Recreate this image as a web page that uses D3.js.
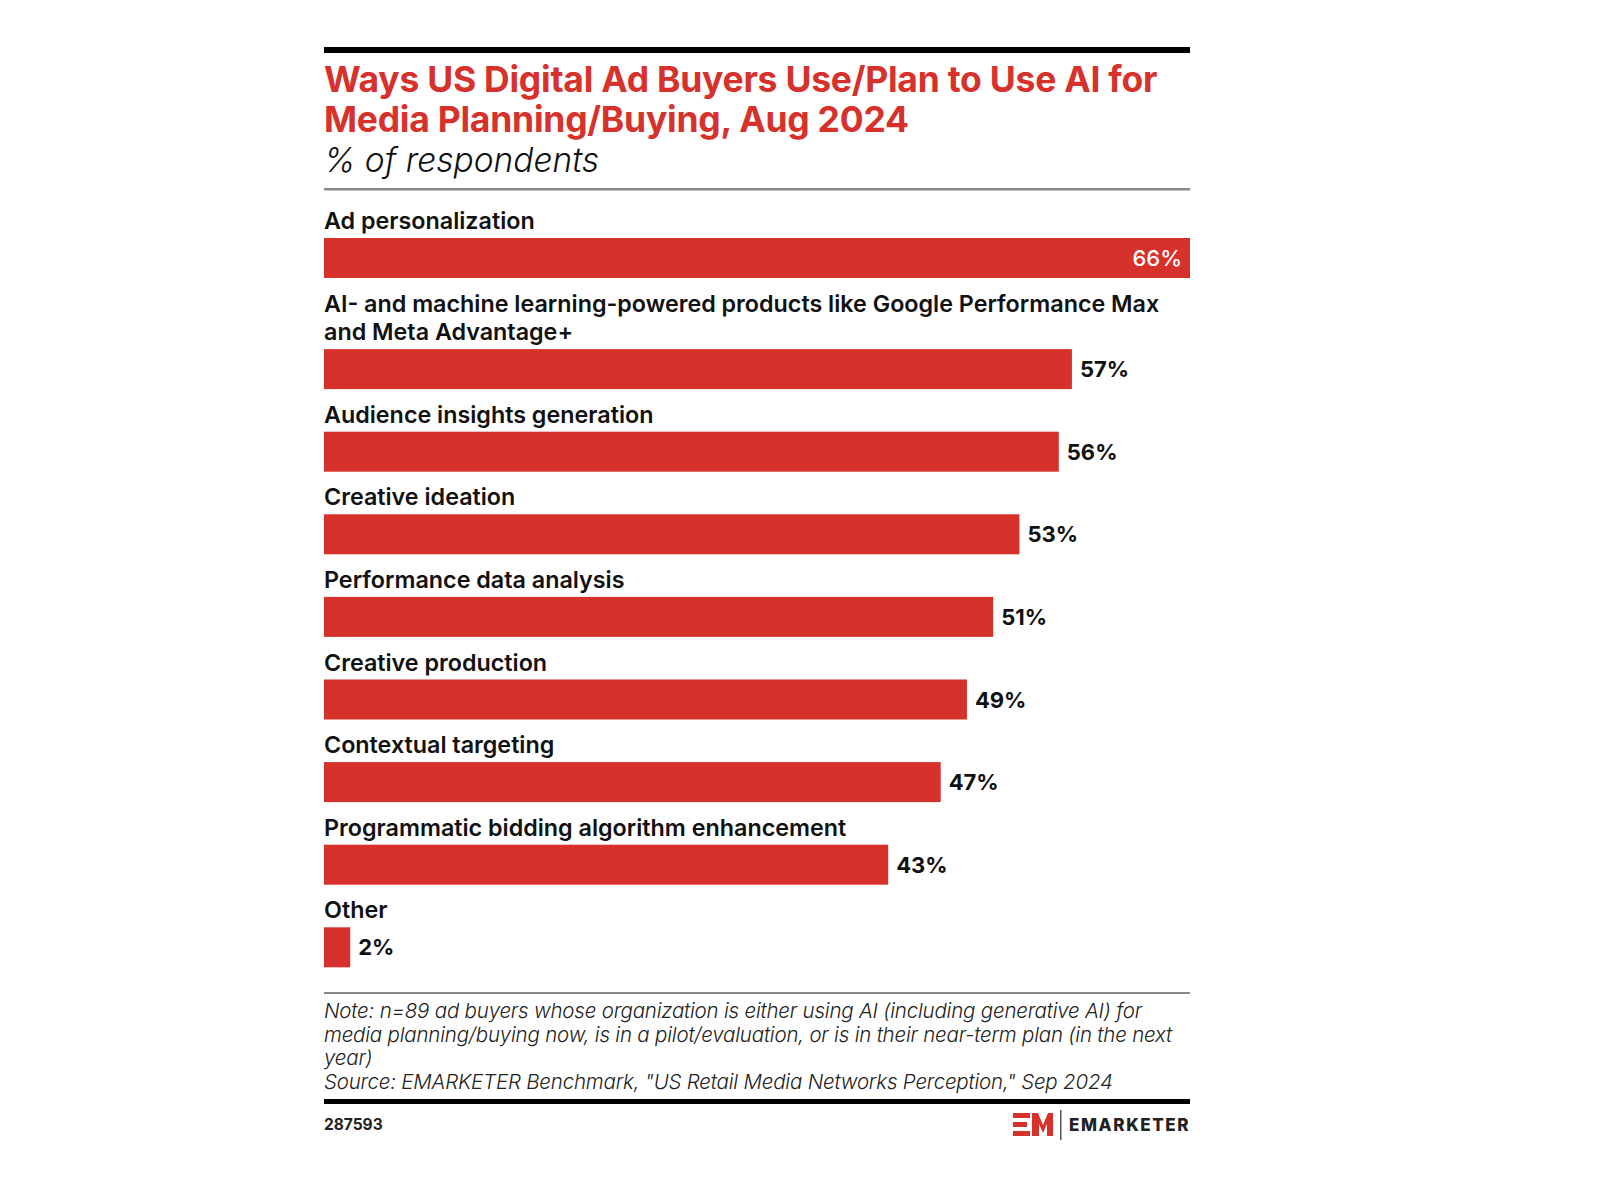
<!DOCTYPE html>
<html>
<head>
<meta charset="utf-8">
<script src="https://cdn.jsdelivr.net/npm/d3@7"></script>
<style>
  html, body { margin: 0; padding: 0; background: #ffffff; }
  svg { display: block; }
</style>
</head>
<body>
<svg id="chart" width="1600" height="1197"></svg>
<script>
// ---- data ----
const categories = [
  "Ad personalization",
  "AI- and machine learning-powered products like Google Performance Max\nand Meta Advantage+",
  "Audience insights generation",
  "Creative ideation",
  "Performance data analysis",
  "Creative production",
  "Contextual targeting",
  "Programmatic bidding algorithm enhancement",
  "Other"
];
const values = [66, 57, 56, 53, 51, 49, 47, 43, 2];
const titleLines = [
  "Ways US Digital Ad Buyers Use/Plan to Use AI for",
  "Media Planning/Buying, Aug 2024"
];
const subtitle = "% of respondents";
const noteLines = [
  "Note: n=89 ad buyers whose organization is either using AI (including generative AI) for",
  "media planning/buying now, is in a pilot/evaluation, or is in their near-term plan (in the next",
  "year)",
  "Source: EMARKETER Benchmark, \"US Retail Media Networks Perception,\" Sep 2024"
];
const chartId = "287593";
const brand = "EMARKETER";

// ---- layout ----
const left = 324, right = 1190;
const red = "#d7312b";
const fontMain = "Inter, 'Noto Sans', sans-serif";

const svg = d3.select("#chart");

const x = d3.scaleLinear().domain([0, d3.max(values)]).range([left, right]);

// top rule
svg.append("rect").attr("x", left).attr("y", 47).attr("width", right - left).attr("height", 6).attr("fill", "#000");

// title
svg.append("g").selectAll("text").data(titleLines).join("text")
  .attr("x", left).attr("y", (d, i) => 92 + i * 39.5)
  .attr("fill", red)
  .style("font-family", fontMain).style("font-weight", 700).style("font-size", "35.5px")
  .style("letter-spacing", "-0.25px")
  .text(d => d);

svg.append("text").attr("x", left).attr("y", 172)
  .attr("fill", "#111")
  .style("font-family", fontMain).style("font-weight", 300).style("font-style", "italic")
  .style("font-size", "33.5px")
  .text(subtitle);

// gray rule under header
svg.append("rect").attr("x", left).attr("y", 188).attr("width", right - left).attr("height", 2.5).attr("fill", "#8a8a8a");

// rows
const barH = 40, gapAfterBar = 42.6, lineH = 28.5;
const rows = [];
let yCursor = 238;
categories.forEach((c, i) => {
  const lines = c.split("\n");
  if (i > 0) yCursor += barH + gapAfterBar + (lines.length - 1) * lineH;
  rows.push({ label: c, lines, value: values[i], top: yCursor });
});

const rowG = svg.append("g").selectAll("g").data(rows).join("g");

rowG.each(function (d) {
  const g = d3.select(this);
  const n = d.lines.length;
  g.selectAll("text.cat").data(d.lines).join("text")
    .attr("class", "cat")
    .attr("x", left)
    .attr("y", (l, j) => d.top - 9 - (n - 1 - j) * lineH)
    .attr("fill", "#111")
    .style("font-family", fontMain).style("font-weight", 600).style("font-size", "23.3px")
    .style("letter-spacing", "0px")
    .text(l => l);
});

rowG.append("rect")
  .attr("x", x(0)).attr("y", d => d.top)
  .attr("width", d => x(d.value) - x(0)).attr("height", barH)
  .attr("fill", red);

rowG.append("text")
  .attr("x", d => d.value === d3.max(values) ? x(d.value) - 8 : x(d.value) + 8)
  .attr("y", d => d.top + barH / 2 + 8)
  .attr("text-anchor", d => d.value === d3.max(values) ? "end" : "start")
  .attr("fill", d => d.value === d3.max(values) ? "#fff" : "#111")
  .style("font-family", fontMain)
  .style("font-weight", d => d.value === d3.max(values) ? 500 : 700)
  .style("font-size", "22px")
  .text(d => d.value + "%");

// note rule
svg.append("rect").attr("x", left).attr("y", 992).attr("width", right - left).attr("height", 2).attr("fill", "#8a8a8a");

svg.append("g").selectAll("text").data(noteLines).join("text")
  .attr("x", left).attr("y", (d, i) => 1018 + i * 23.6)
  .attr("fill", "#222")
  .style("font-family", fontMain).style("font-weight", 300).style("font-style", "italic")
  .style("font-size", "20.5px").style("letter-spacing", "-0.2px")
  .text(d => d);

// bottom rule
svg.append("rect").attr("x", left).attr("y", 1099).attr("width", right - left).attr("height", 5).attr("fill", "#000");

svg.append("text").attr("x", left).attr("y", 1130)
  .attr("fill", "#222")
  .style("font-family", fontMain).style("font-weight", 700).style("font-size", "15.5px")
  .text(chartId);

// logo
const logo = svg.append("g").attr("transform", "translate(1013,1113)");
logo.append("rect").attr("x", 0).attr("y", 0).attr("width", 17).attr("height", 5).attr("fill", red);
logo.append("rect").attr("x", 0).attr("y", 9).attr("width", 14).attr("height", 5).attr("fill", red);
logo.append("rect").attr("x", 0).attr("y", 18).attr("width", 17).attr("height", 5).attr("fill", red);
logo.append("path")
  .attr("d", "M19,23 L19,0 L25,0 L30,12 L35,0 L40,0 L40,23 L34,23 L34,11 L30,20 L26,11 L26,23 Z")
  .attr("fill", red);
svg.append("rect").attr("x", 1060).attr("y", 1110).attr("width", 1.5).attr("height", 30).attr("fill", "#555");
svg.append("text").attr("x", 1069).attr("y", 1131)
  .attr("fill", "#222")
  .style("font-family", fontMain).style("font-weight", 800).style("font-size", "17px")
  .style("letter-spacing", "1.6px")
  .text(brand);
</script>
</body>
</html>
